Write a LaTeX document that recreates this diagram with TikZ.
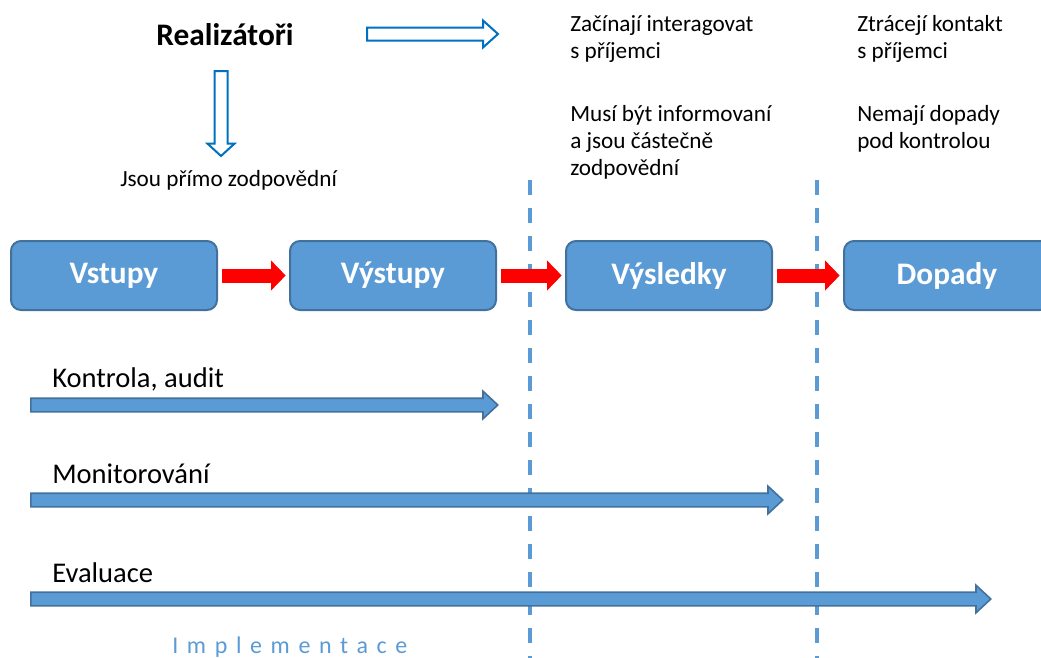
\documentclass[tikz,border=0pt]{standalone}
\usepackage{fontspec}
\setmainfont{Carlito}
\usetikzlibrary{arrows.meta,shapes.arrows}
\definecolor{modra}{HTML}{5B9BD5}
\definecolor{okraj}{HTML}{41719C}
\definecolor{obrys}{HTML}{0070C0}

\begin{document}
\begin{tikzpicture}[
    x=0.75pt, y=-0.75pt,
    % Bloky řetězce (vstupy až dopady)
    blok/.style={
        draw=okraj,
        line width=1.5pt,
        rounded corners=7.5pt,
        fill=modra,
        text=white,
        font=\fontsize{23.5}{28}\selectfont\bfseries,
        minimum width=154.5pt,
        minimum height=51.75pt
    },
    % Popisky
    popis/.style={
        inner sep=0pt,
        font=\fontsize{17.4}{20.25}\selectfont,
        align=left
    },
    nazev/.style={
        inner sep=0pt,
        font=\fontsize{21.4}{26}\selectfont
    },
    % Šipky
    cervena/.style={
        draw=red,
        line width=10.5pt,
        -{Triangle[length=11pt, width=22pt]},
        shorten <=3pt, shorten >=2.5pt
    },
    plna/.style={
        single arrow,
        draw=okraj,
        fill=modra,
        line width=1.2pt,
        text height=0pt, text depth=0pt,
        inner sep=4.5pt,
        single arrow head extend=5.25pt,
        single arrow tip angle=86,
        single arrow head indent=0pt,
        anchor=tail
    },
    duta/.style={
        single arrow,
        draw=obrys,
        fill=white,
        line width=1.5pt,
        text height=0pt, text depth=0pt,
        inner sep=4.125pt,
        single arrow head extend=5.25pt,
        single arrow head indent=0pt,
        anchor=tail
    },
    delic/.style={
        draw=modra,
        line width=3pt,
        dash pattern=on 11.25pt off 9.75pt
    }
]
\useasboundingbox (0,0) rectangle (1041,657);

% ---- REALIZÁTOŘI ----
\node[font=\fontsize{23.5}{28}\selectfont\bfseries, inner sep=0pt, anchor=base]
    (realizatori) at (225,45) {Realizátoři};
\node[duta, single arrow tip angle=84, minimum height=98.25pt] (sipka_h) at (366,34) {};
\node[duta, shape border rotate=270, single arrow tip angle=95,
    minimum height=63.75pt] (sipka_v) at (221,70) {};
\node[popis, anchor=base west] (primo) at (120,186) {Jsou přímo zodpovědní};

% ---- POPISKY NAHOŘE ----
\node[popis, anchor=north west] (interakce) at (570,15)
    {Začínají interagovat\\s příjemci};
\node[popis, anchor=north west] (informovani) at (570,105)
    {Musí být informovaní\\a jsou částečně\\zodpovědní};
\node[popis, anchor=north west] (kontakt) at (857,15)
    {Ztrácejí kontakt\\s příjemci};
\node[popis, anchor=north west] (nemaji) at (857,105)
    {Nemají dopady\\pod kontrolou};

% ---- DĚLICÍ ČÁRY ----
\coordinate (del1_a) at (530,180);
\coordinate (del1_b) at (530,662);
\coordinate (del2_a) at (817,180);
\coordinate (del2_b) at (817,662);
\draw[delic] (del1_a) -- (del1_b);
\draw[delic] (del2_a) -- (del2_b);

% ---- ŘETĚZEC ----
\node[blok] (vstupy)   at (114,275.5) {Vstupy};
\node[blok] (vystupy)  at (393,275.5) {Výstupy};
\node[blok] (vysledky) at (669,275.5) {Výsledky};
\node[blok] (dopady)   at (947,275.5) {Dopady};

\draw[cervena] (vstupy.east)   -- (vystupy.west);
\draw[cervena] (vystupy.east)  -- (vysledky.west);
\draw[cervena] (vysledky.east) -- (dopady.west);

% ---- KONTROLA, MONITOROVÁNÍ, EVALUACE ----
\node[nazev, anchor=base west] (kontrola_t) at (52,387) {Kontrola, audit};
\node[plna, minimum height=350.25pt] (kontrola) at (30,405) {};

\node[nazev, anchor=base west] (monitor_t) at (52,483) {Monitorování};
\node[plna, minimum height=564pt] (monitor) at (30,500) {};

\node[nazev, anchor=base west] (evaluace_t) at (52,582) {Evaluace};
\node[plna, minimum height=720pt] (evaluace) at (30,599) {};

% ---- IMPLEMENTACE ----
\node[inner sep=0pt, anchor=base west, text=modra,
    font=\fontsize{18}{22}\selectfont\addfontfeature{LetterSpace=36}]
    (implementace) at (172,653) {Implementace};

\end{tikzpicture}
\end{document}
